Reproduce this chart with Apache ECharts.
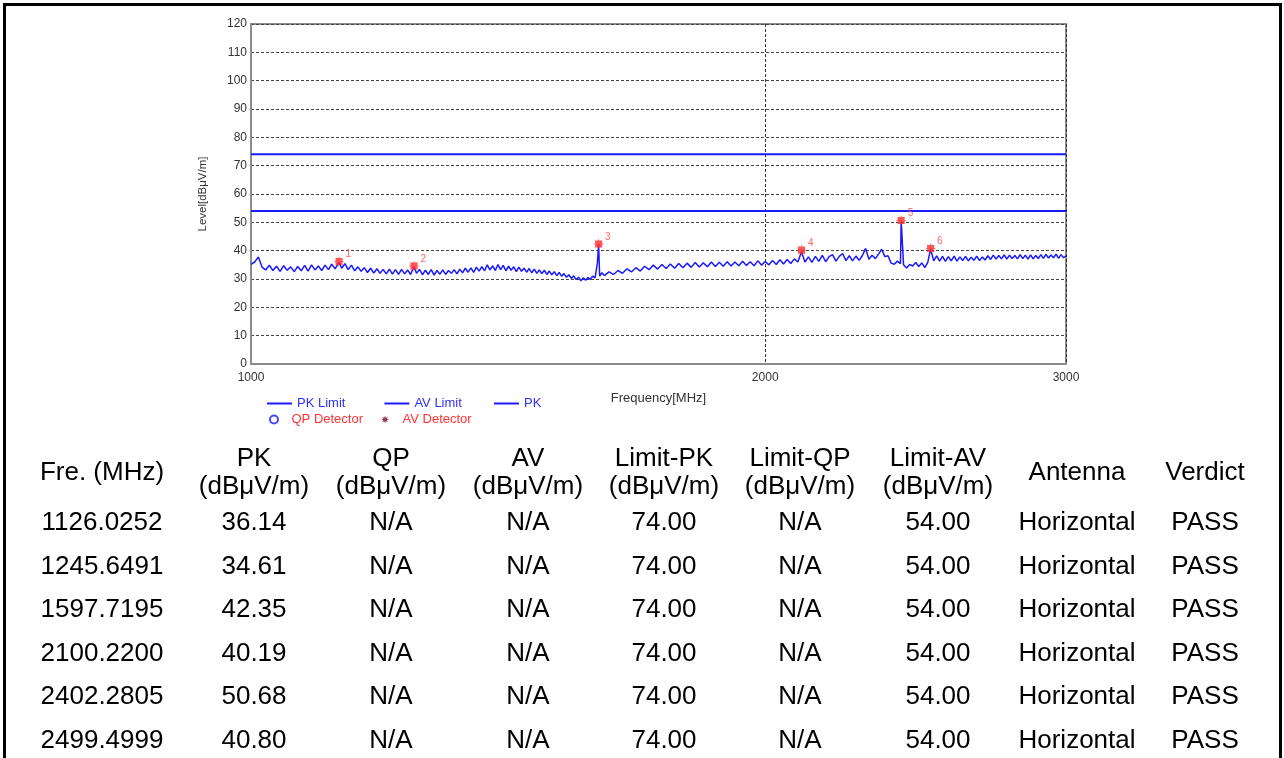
<!DOCTYPE html>
<html>
<head>
<meta charset="utf-8">
<script src="https://cdn.jsdelivr.net/npm/echarts@6/dist/echarts.min.js"></script>
<style>
  html, body { margin: 0; padding: 0; background: #fff; }
  body { width: 1284px; height: 758px; position: relative; overflow: hidden; }
  #frame { position: absolute; left: 3px; top: 3px; width: 1279px; height: 820px; box-sizing: border-box; border: 3px solid #000; }
  #chart { position: absolute; left: 0; top: 0; width: 1284px; height: 432px; }
  #table { position: absolute; left: 0; top: 0; width: 1284px; height: 758px; }
  .cell { position: absolute; transform: translate(-50%, -50%); white-space: nowrap; text-align: center;
          font-family: "Liberation Sans", Arial, sans-serif; font-size: 26px; line-height: 28px; color: #000; }
</style>
</head>
<body>
<div id="frame"></div>
<div id="chart"></div>
<div id="table"></div>
<script>
// PK trace [MHz, dBuV/m]
const pkTrace = [
  [1000, 35.2], [1005, 36.0], [1010, 37.8], [1015, 34.2], [1020, 33.2], [1025, 34.9], [1030, 33.0], [1035, 34.5],
  [1040, 32.7], [1045, 34.7], [1050, 33.1], [1055, 34.3], [1060, 32.6], [1065, 34.4], [1070, 32.9], [1075, 34.8],
  [1080, 32.8], [1085, 35.0], [1090, 33.2], [1095, 34.6], [1100, 33.0], [1105, 34.9], [1110, 33.3], [1115, 35.2],
  [1120, 33.6], [1126.0252, 35.9], [1130, 33.8], [1135, 35.4], [1140, 33.3], [1145, 34.9], [1150, 32.9], [1155, 34.3],
  [1160, 32.7], [1165, 34.0], [1170, 32.3], [1175, 33.8], [1180, 32.1], [1185, 33.6], [1190, 32.0], [1195, 33.4],
  [1200, 31.8], [1205, 33.5], [1210, 31.7], [1215, 33.3], [1220, 31.6], [1225, 33.4], [1230, 31.8], [1235, 33.2],
  [1240, 31.6], [1245.6491, 34.4], [1250, 32.0], [1255, 33.4], [1260, 31.5], [1265, 33.1], [1270, 31.6], [1275, 33.3],
  [1280, 31.4], [1285, 33.0], [1290, 31.7], [1295, 33.2], [1300, 31.6], [1305, 33.0], [1310, 32.0], [1315, 33.3],
  [1320, 31.8], [1325, 33.5], [1330, 32.2], [1335, 33.8], [1340, 32.4], [1345, 33.9], [1350, 32.3], [1355, 34.2],
  [1360, 32.8], [1365, 34.4], [1370, 32.9], [1375, 35.0], [1380, 33.2], [1385, 34.6], [1390, 33.0], [1395, 35.1],
  [1400, 33.3], [1405, 34.8], [1410, 32.9], [1415, 34.5], [1420, 33.1], [1425, 34.3], [1430, 32.6], [1435, 34.2],
  [1440, 32.7], [1445, 33.8], [1450, 32.4], [1455, 33.7], [1460, 32.2], [1465, 33.5], [1470, 32.0], [1475, 33.2],
  [1480, 31.9], [1485, 33.1], [1490, 31.6], [1495, 32.8], [1500, 31.5], [1505, 32.6], [1510, 31.2], [1515, 32.3],
  [1520, 31.0], [1525, 31.9], [1530, 30.6], [1535, 31.5], [1540, 30.2], [1545, 31.1], [1550, 29.8], [1555, 30.6],
  [1560, 29.4], [1565, 30.4], [1570, 29.6], [1575, 30.5], [1580, 29.9], [1585, 31.0], [1590, 30.4], [1595, 35.5],
  [1597.7195, 42.3], [1600, 31.0], [1605, 32.2],
  [1610, 31.2], [1620, 32.5], [1630, 31.6], [1640, 33.0], [1650, 32.0], [1660, 33.6], [1670, 32.5], [1680, 34.0],
  [1690, 32.8], [1700, 34.5], [1710, 33.3], [1720, 34.9], [1730, 33.5], [1740, 35.1], [1750, 33.7], [1760, 35.3],
  [1770, 33.8], [1780, 35.5], [1790, 34.0], [1800, 35.6], [1810, 34.1], [1820, 35.8], [1830, 34.2], [1840, 35.7],
  [1850, 34.3], [1860, 36.0], [1870, 34.4], [1880, 35.9], [1890, 34.5], [1900, 36.1], [1910, 34.6], [1920, 36.0],
  [1930, 34.7], [1940, 36.3], [1950, 34.8], [1960, 36.1], [1970, 34.7], [1980, 36.4], [1990, 34.9], [2000, 36.2],
  [2010, 35.0], [2020, 36.5], [2030, 35.1], [2040, 36.8], [2050, 35.3], [2060, 36.9], [2070, 35.5], [2080, 37.1],
  [2090, 36.0], [2100.22, 39.6], [2110, 36.0], [2120, 37.8], [2130, 35.9], [2140, 38.0], [2150, 36.2], [2160, 38.3],
  [2170, 36.1], [2180, 37.9], [2190, 38.6], [2200, 36.3], [2210, 38.0], [2220, 39.0], [2230, 36.5], [2240, 38.2],
  [2250, 36.4], [2260, 38.1], [2270, 36.6], [2280, 38.3], [2290, 40.8], [2300, 37.0], [2310, 38.4], [2320, 37.2],
  [2330, 38.8], [2340, 40.5], [2350, 37.9], [2360, 38.2], [2370, 35.6], [2380, 35.2], [2390, 36.3], [2400, 35.4],
  [2402.2805, 50.6], [2410, 35.0], [2420, 33.9], [2430, 35.1], [2440, 34.6], [2450, 35.8], [2460, 34.4], [2470, 35.7],
  [2480, 34.0], [2490, 35.9], [2499.4999, 40.6], [2510, 36.4], [2520, 38.2], [2530, 36.3], [2540, 38.0], [2550, 36.2],
  [2560, 37.9], [2570, 36.4], [2580, 38.1], [2590, 36.3], [2600, 37.8], [2610, 36.5], [2620, 38.0], [2630, 36.4],
  [2640, 37.7], [2650, 36.6], [2660, 38.1], [2670, 36.5], [2680, 37.8], [2690, 36.7], [2700, 38.2], [2710, 36.9],
  [2720, 38.4], [2730, 37.0], [2740, 38.3], [2750, 37.1], [2760, 38.5], [2770, 37.0], [2780, 38.4], [2790, 37.2],
  [2800, 38.3], [2810, 37.1], [2820, 38.6], [2830, 37.2], [2840, 38.4], [2850, 37.0], [2860, 38.5], [2870, 37.1],
  [2880, 38.3], [2890, 37.2], [2900, 38.6], [2910, 37.3], [2920, 38.7], [2930, 37.4], [2940, 38.5], [2950, 37.5],
  [2960, 38.8], [2970, 37.3], [2980, 38.6], [2990, 37.5], [3000, 38.2]
];

const limitFreqs = [1000, 3000];
const pkLimitLevels = [74, 74];
const avLimitLevels = [54, 54];

const xTickValues = [1000, 2000, 3000];

// marker / table rows
const markerFreqs = [1126.0252, 1245.6491, 1597.7195, 2100.2200, 2402.2805, 2499.4999];
const markerPK = [36.14, 34.61, 42.35, 40.19, 50.68, 40.80];
const markerQP = ['N/A', 'N/A', 'N/A', 'N/A', 'N/A', 'N/A'];
const markerAV = ['N/A', 'N/A', 'N/A', 'N/A', 'N/A', 'N/A'];
const markerLimitPK = [74.00, 74.00, 74.00, 74.00, 74.00, 74.00];
const markerLimitQP = ['N/A', 'N/A', 'N/A', 'N/A', 'N/A', 'N/A'];
const markerLimitAV = [54.00, 54.00, 54.00, 54.00, 54.00, 54.00];
const markerAntenna = ['Horizontal', 'Horizontal', 'Horizontal', 'Horizontal', 'Horizontal', 'Horizontal'];
const markerVerdict = ['PASS', 'PASS', 'PASS', 'PASS', 'PASS', 'PASS'];

const tableHeader = [
  ['Fre. (MHz)'], ['PK', '(dBμV/m)'], ['QP', '(dBμV/m)'], ['AV', '(dBμV/m)'],
  ['Limit-PK', '(dBμV/m)'], ['Limit-QP', '(dBμV/m)'], ['Limit-AV', '(dBμV/m)'], ['Antenna'], ['Verdict']
];

const BLUE = '#1a1aff';
const RED = '#ff2a2a';
const burst = 'path://M10,5L7.12,5.88L8.54,8.54L5.88,7.12L5,10L4.12,7.12L1.46,8.54L2.88,5.88L0,5L2.88,4.12L1.46,1.46L4.12,2.88L5,0L5.88,2.88L8.54,1.46L7.12,4.12Z';
// square with the burst on top, as the analyser draws its marks
const markSym = 'path://M1.8,1.8L8.2,1.8L8.2,8.2L1.8,8.2Z' + burst.slice(7);
const font = 'Liberation Sans, Arial, sans-serif';

const chart = echarts.init(document.getElementById('chart'));

const pair = (xs, ys) => xs.map((x, i) => [x, ys[i]]);

chart.setOption({
  animation: false,
  textStyle: { fontFamily: font },
  grid: { left: 251, top: 24, width: 815, height: 340, show: true, borderColor: '#8c8c8c', borderWidth: 2 },
  legend: [
    { left: 262, top: 392, icon: 'rect', itemWidth: 25, itemHeight: 2, itemGap: 39, data: ['PK Limit', 'AV Limit'],
      textStyle: { color: '#3030ff', fontSize: 13, fontFamily: font } },
    { left: 489, top: 392, icon: 'rect', itemWidth: 25, itemHeight: 2, data: ['PK'],
      textStyle: { color: '#3030ff', fontSize: 13, fontFamily: font } },
    { left: 264, top: 408, itemWidth: 25, itemHeight: 8, itemGap: 18,
      data: [
        { name: 'QP Detector', icon: 'emptyCircle' },
        { name: 'AV Detector', icon: burst, itemStyle: { color: '#7a0a2a' } }
      ],
      textStyle: { color: '#ff3333', fontSize: 13, fontFamily: font } }
  ],
  xAxis: {
    type: 'log', logBase: 10, min: 1000, max: 3000,
    name: 'Frequency[MHz]', nameLocation: 'middle', nameGap: 28,
    nameTextStyle: { color: '#333', fontSize: 13, fontFamily: font },
    axisLine: { lineStyle: { color: '#8c8c8c', width: 2 } },
    axisTick: { show: false, customValues: xTickValues },
    axisLabel: { customValues: xTickValues, color: '#333', fontSize: 12, margin: 8, formatter: v => String(v) },
    splitLine: { show: true, lineStyle: { color: '#333', width: 1, type: [3, 2] } }
  },
  yAxis: {
    type: 'value', min: 0, max: 120, interval: 10,
    name: 'Level[dBμV/m]', nameLocation: 'middle', nameGap: 42,
    nameTextStyle: { color: '#333', fontSize: 11.5, fontFamily: font },
    axisLine: { show: true, lineStyle: { color: '#8c8c8c', width: 2 } },
    axisTick: { show: false },
    axisLabel: { color: '#333', fontSize: 12, margin: 4 },
    splitLine: { lineStyle: { color: '#444', width: 1, type: [3, 2] } }
  },
  series: [
    { name: 'PK Limit', type: 'line', data: pair(limitFreqs, pkLimitLevels), showSymbol: false,
      lineStyle: { color: BLUE, width: 2 }, itemStyle: { color: BLUE }, z: 3 },
    { name: 'AV Limit', type: 'line', data: pair(limitFreqs, avLimitLevels), showSymbol: false,
      lineStyle: { color: BLUE, width: 2 }, itemStyle: { color: BLUE }, z: 3 },
    { name: 'PK', type: 'line', data: pkTrace, showSymbol: false,
      lineStyle: { color: BLUE, width: 1.5 }, itemStyle: { color: BLUE }, z: 4 },
    { name: 'QP Detector', type: 'scatter', data: [], symbol: 'emptyCircle',
      itemStyle: { color: BLUE, borderWidth: 2 } },
    { name: 'AV Detector', type: 'scatter', data: [], itemStyle: { color: '#7a0a2a' } },
    { name: 'Marker', type: 'scatter', data: pair(markerFreqs, markerPK), symbol: markSym, symbolSize: 11,
      itemStyle: { color: RED }, z: 6,
      label: { show: true, position: 'right', distance: 1, offset: [0, -7], color: '#ff4040', fontSize: 10,
               formatter: p => String(p.dataIndex + 1) } }
  ]
});

// table
const table = document.getElementById('table');
const colX = [102, 254, 391, 528, 664, 800, 938, 1077, 1205];
const rowY = [521, 564.5, 608, 651.5, 695, 739];
function cell(text, x, y) {
  const d = document.createElement('div');
  d.className = 'cell';
  d.style.left = x + 'px';
  d.style.top = y + 'px';
  d.innerHTML = text;
  table.appendChild(d);
}
tableHeader.forEach((h, i) => cell(h.join('<br>'), colX[i], 471));
markerFreqs.forEach((f, r) => {
  const vals = [
    f.toFixed(4), markerPK[r].toFixed(2), markerQP[r], markerAV[r], markerLimitPK[r].toFixed(2),
    markerLimitQP[r], markerLimitAV[r].toFixed(2), markerAntenna[r], markerVerdict[r]
  ];
  vals.forEach((v, c) => cell(v, colX[c], rowY[r]));
});
</script>
</body>
</html>
